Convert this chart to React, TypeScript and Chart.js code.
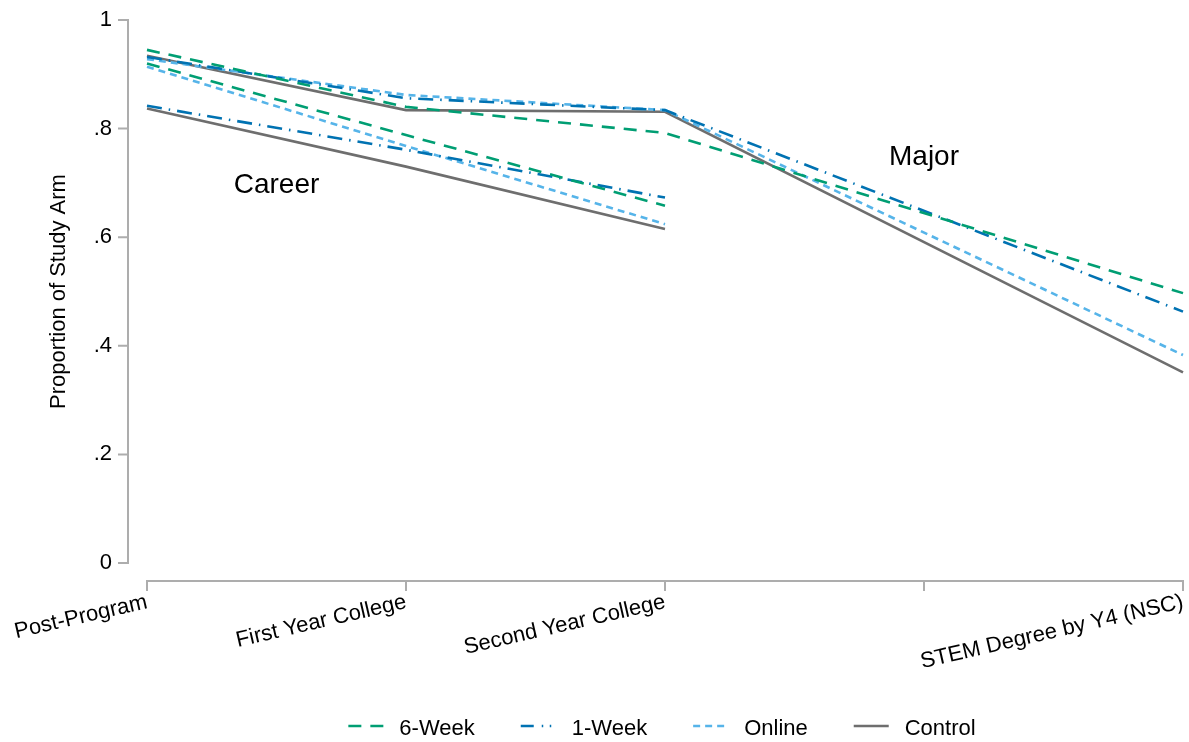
import { useEffect, useRef } from 'react';
import { Chart, registerables } from 'chart.js';

Chart.register(...registerables);

// ---------- data ----------
const categories = ['Post-Program', 'First Year College', 'Second Year College', '', 'STEM Degree by Y4 (NSC)'];
const arms = ['6-Week', '1-Week', 'Online', 'Control'];

// Career outcome (first three waves)
const career6Week = [0.920, 0.788, 0.658, null, null];
const career1Week = [0.842, 0.761, 0.673, null, null];
const careerOnline = [0.914, 0.768, 0.624, null, null];
const careerControl = [0.837, 0.730, 0.615, null, null];

// Major outcome (through STEM degree)
const major6Week = [0.945, 0.840, 0.792, null, 0.497];
const major1Week = [0.932, 0.856, 0.834, null, 0.463];
const majorOnline = [0.928, 0.862, 0.834, null, 0.383];
const majorControl = [0.934, 0.834, 0.831, null, 0.351];

const yTicks = [0, 0.2, 0.4, 0.6, 0.8, 1];
const yTickLabels = ['0', '.2', '.4', '.6', '.8', '1'];
const yTitle = 'Proportion of Study Arm';
const groupLabels = ['Career', 'Major'];
// data-space anchors of the group labels (category index, proportion)
const groupLabelX = [0.5, 3];
const groupLabelY = [0.681, 0.733];

// ---------- styles ----------
const FONT = "'Liberation Sans', Arial, Helvetica, sans-serif";
const armColors = ['#009E73', '#0072B2', '#56B4E9', '#6E6E6E'];
const armDashes: number[][] = [[13, 9], [15, 7, 1.5, 7], [7, 5], []];
const legendDashes: number[][] = [[13, 9], [13, 8, 1.5, 6.5, 1.5, 12], [7, 5], []];
const LINE_W = 2.6;
const AXIS_COLOR = '#ADADAD';

const careerSeries = [career6Week, career1Week, careerOnline, careerControl];
const majorSeries = [major6Week, major1Week, majorOnline, majorControl];

const axesPlugin = {
  id: 'stataAxes',
  afterDraw(chart: any) {
    const { ctx, chartArea, scales } = chart;
    const xs = scales.x;
    const ys = scales.y;
    ctx.save();
    ctx.strokeStyle = AXIS_COLOR;
    ctx.lineWidth = 2;
    ctx.lineCap = 'butt';
    // y axis (offset to the left of plot region)
    const ax = chartArea.left - 19;
    ctx.beginPath();
    ctx.moveTo(ax, ys.getPixelForValue(1) - 1);
    ctx.lineTo(ax, ys.getPixelForValue(0) + 1);
    yTicks.forEach((t) => {
      const py = ys.getPixelForValue(t);
      ctx.moveTo(ax - 10, py);
      ctx.lineTo(ax + 1, py);
    });
    ctx.stroke();
    // x axis (offset below plot region)
    const ay = chartArea.bottom + 18;
    ctx.beginPath();
    ctx.moveTo(xs.getPixelForValue(0) - 1, ay);
    ctx.lineTo(xs.getPixelForValue(categories.length - 1) + 1, ay);
    categories.forEach((_c, i) => {
      const px = xs.getPixelForValue(i);
      ctx.moveTo(px, ay - 1);
      ctx.lineTo(px, ay + 10);
    });
    ctx.stroke();

    // group labels
    ctx.fillStyle = '#000';
    ctx.font = `28px ${FONT}`;
    ctx.textAlign = 'center';
    ctx.textBaseline = 'alphabetic';
    groupLabels.forEach((g, i) => {
      ctx.fillText(g, xs.getPixelForValue(groupLabelX[i]), ys.getPixelForValue(groupLabelY[i]));
    });

    // legend
    ctx.font = `22px ${FONT}`;
    ctx.textAlign = 'left';
    const KEY_W = 35;
    const KEY_GAP = 16;
    const ITEM_GAP = 46;
    const widths = arms.map((a) => ctx.measureText(a).width);
    const total = widths.reduce((s, w) => s + w, 0) + arms.length * (KEY_W + KEY_GAP) + (arms.length - 1) * ITEM_GAP;
    let lx = (chartArea.left + chartArea.right) / 2 - total / 2 - 3;
    const lineY = chart.height - 16;
    const textY = chart.height - 7;
    arms.forEach((a, i) => {
      ctx.strokeStyle = armColors[i];
      ctx.lineWidth = LINE_W;
      ctx.setLineDash(legendDashes[i]);
      ctx.beginPath();
      ctx.moveTo(lx, lineY);
      ctx.lineTo(lx + KEY_W, lineY);
      ctx.stroke();
      ctx.setLineDash([]);
      ctx.fillStyle = '#000';
      ctx.fillText(a, lx + KEY_W + KEY_GAP, textY);
      lx += KEY_W + KEY_GAP + widths[i] + ITEM_GAP;
    });
    ctx.restore();
  },
};

export default function App() {
  const ref = useRef<HTMLCanvasElement>(null);

  useEffect(() => {
    if (!ref.current) return;
    const mk = (series: (number | null)[], i: number, group: string) => ({
      label: `${arms[i]} (${group})`,
      data: series,
      borderColor: armColors[i],
      backgroundColor: armColors[i],
      borderDash: armDashes[i],
      borderWidth: LINE_W,
      borderCapStyle: 'butt' as const,
      borderJoinStyle: 'miter' as const,
      pointRadius: 0,
      pointHoverRadius: 0,
      spanGaps: true,
      tension: 0,
      fill: false,
      clip: false as const,
    });
    const datasets = [
      ...majorSeries.map((s, i) => mk(s, i, 'Major')),
      ...careerSeries.map((s, i) => mk(s, i, 'Career')),
    ];

    const chart = new Chart(ref.current, {
      type: 'line',
      data: { labels: categories, datasets },
      options: {
        animation: false,
        responsive: true,
        maintainAspectRatio: false,
        events: [],
        layout: { padding: { left: 0, right: 6, top: 20, bottom: 0 } },
        plugins: {
          legend: { display: false },
          tooltip: { enabled: false },
        },
        scales: {
          x: {
            type: 'category',
            offset: false,
            grid: { display: false, drawTicks: false },
            border: { display: false },
            ticks: {
              autoSkip: false,
              minRotation: 13,
              maxRotation: 13,
              padding: 26,
              color: '#000',
              font: { family: FONT, size: 22 },
            },
            afterFit: (s: any) => {
              s.height = 179;
              s.paddingLeft = 0;
              s.paddingRight = 0;
            },
          },
          y: {
            type: 'linear',
            min: 0,
            max: 1,
            grid: { display: false, drawTicks: false },
            border: { display: false },
            afterBuildTicks: (s: any) => {
              s.ticks = yTicks.map((v) => ({ value: v }));
            },
            ticks: {
              padding: 35,
              color: '#000',
              font: { family: FONT, size: 22 },
              callback: (v: any) => {
                const i = yTicks.findIndex((t) => Math.abs(t - Number(v)) < 1e-6);
                return i >= 0 ? yTickLabels[i] : '';
              },
            },
            title: {
              display: true,
              text: yTitle,
              color: '#000',
              font: { family: FONT, size: 22 },
              padding: { top: 46, bottom: 0 },
            },
            afterFit: (s: any) => {
              s.width = 147;
              s.paddingTop = 0;
              s.paddingBottom = 0;
            },
          },
        },
      },
      plugins: [axesPlugin],
    });
    return () => chart.destroy();
  }, []);

  return (
    <div style={{ position: 'fixed', left: 0, top: 0, width: 1189, height: 742, background: '#fff' }}>
      <canvas ref={ref} />
    </div>
  );
}
